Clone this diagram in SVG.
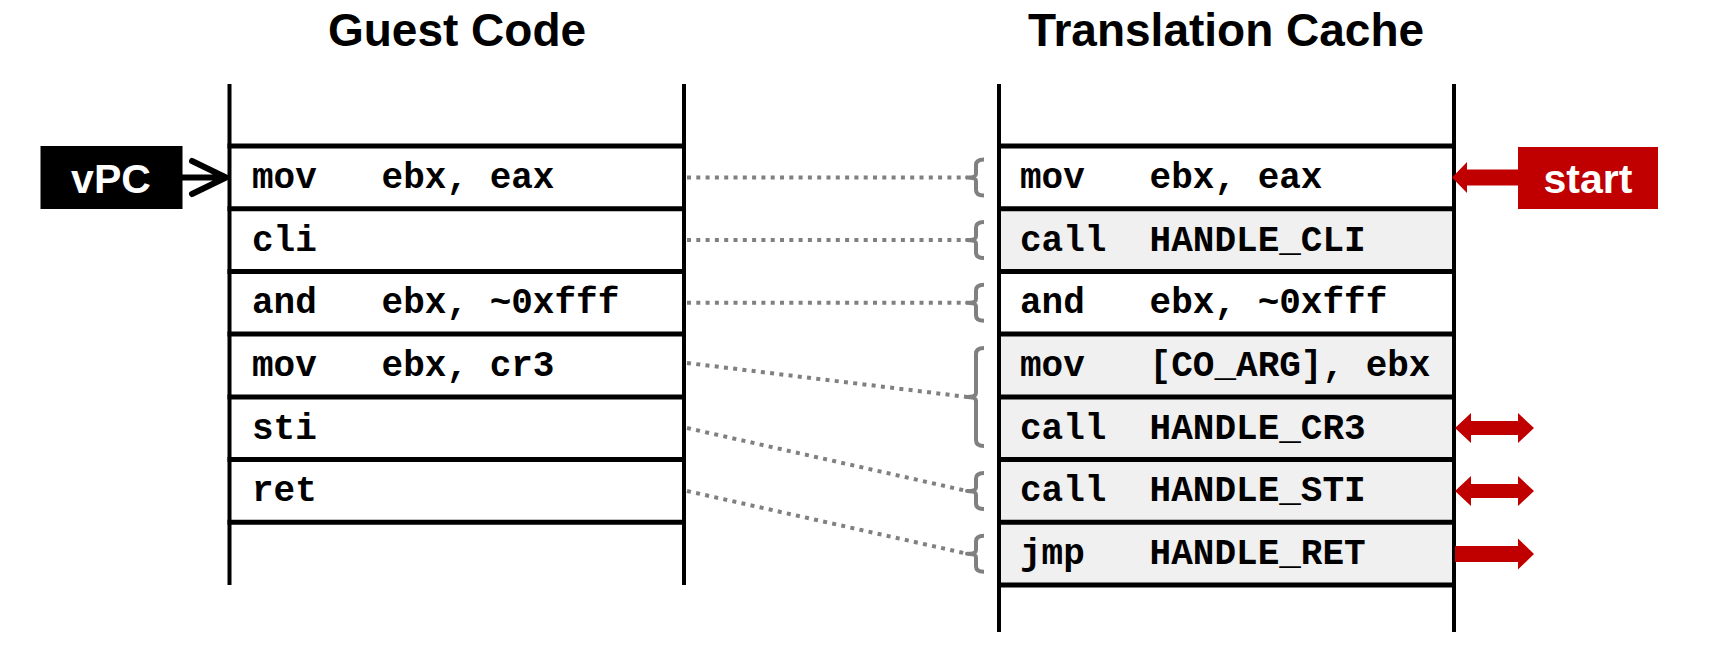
<svg xmlns="http://www.w3.org/2000/svg" width="1721" height="646" viewBox="0 0 1721 646">
<defs>
<style>
.title{font-family:"Liberation Sans",Arial,sans-serif;font-weight:bold;font-size:46px;fill:#000;text-anchor:middle}
.code{font-family:"Liberation Mono","Courier New",monospace;font-weight:bold;font-size:36px;fill:#000;white-space:pre}
.lbl{font-family:"Liberation Sans",Arial,sans-serif;font-weight:bold;font-size:41px;fill:#fff;text-anchor:middle}
.vline{stroke:#000;stroke-width:4;fill:none}
.hline{stroke:#000;stroke-width:5;fill:none}
.dot{stroke:#808080;stroke-width:4;stroke-dasharray:4 5.3;fill:none}
.brace{stroke:#808080;stroke-width:4;fill:none;stroke-linejoin:round}
.gray{fill:#f0f0f0}
.red{fill:#c00000}
</style>
</defs>
<rect width="1721" height="646" fill="#fff"/>
<text class="title" x="457" y="46">Guest Code</text>
<text class="title" x="1226" y="46">Translation Cache</text>

<g id="guest">
<line class="vline" x1="229.5" y1="84" x2="229.5" y2="585"/>
<line class="vline" x1="684" y1="84" x2="684" y2="585"/>
<g class="hline">
<line x1="227.5" y1="146" x2="686" y2="146"/>
<line x1="227.5" y1="208.7" x2="686" y2="208.7"/>
<line x1="227.5" y1="271.4" x2="686" y2="271.4"/>
<line x1="227.5" y1="334.1" x2="686" y2="334.1"/>
<line x1="227.5" y1="396.9" x2="686" y2="396.9"/>
<line x1="227.5" y1="459.6" x2="686" y2="459.6"/>
<line x1="227.5" y1="522.3" x2="686" y2="522.3"/>
</g>
<text class="code" x="252" y="188" xml:space="preserve">mov   ebx, eax</text>
<text class="code" x="252" y="251" xml:space="preserve">cli</text>
<text class="code" x="252" y="313" xml:space="preserve">and   ebx, ~0xfff</text>
<text class="code" x="252" y="376" xml:space="preserve">mov   ebx, cr3</text>
<text class="code" x="252" y="439" xml:space="preserve">sti</text>
<text class="code" x="252" y="501" xml:space="preserve">ret</text>
</g>

<g id="cache">
<rect class="gray" x="999" y="208.7" width="455" height="62.7"/>
<rect class="gray" x="999" y="334.1" width="455" height="250.9"/>
<line class="vline" x1="999" y1="84" x2="999" y2="632"/>
<line class="vline" x1="1454" y1="84" x2="1454" y2="632"/>
<g class="hline">
<line x1="997" y1="146" x2="1456" y2="146"/>
<line x1="997" y1="208.7" x2="1456" y2="208.7"/>
<line x1="997" y1="271.4" x2="1456" y2="271.4"/>
<line x1="997" y1="334.1" x2="1456" y2="334.1"/>
<line x1="997" y1="396.9" x2="1456" y2="396.9"/>
<line x1="997" y1="459.6" x2="1456" y2="459.6"/>
<line x1="997" y1="522.3" x2="1456" y2="522.3"/>
<line x1="997" y1="585" x2="1456" y2="585"/>
</g>
<text class="code" x="1020" y="188" xml:space="preserve">mov   ebx, eax</text>
<text class="code" x="1020" y="251" xml:space="preserve">call  HANDLE_CLI</text>
<text class="code" x="1020" y="313" xml:space="preserve">and   ebx, ~0xfff</text>
<text class="code" x="1020" y="376" xml:space="preserve">mov   [CO_ARG], ebx</text>
<text class="code" x="1020" y="439" xml:space="preserve">call  HANDLE_CR3</text>
<text class="code" x="1020" y="501" xml:space="preserve">call  HANDLE_STI</text>
<text class="code" x="1020" y="564" xml:space="preserve">jmp   HANDLE_RET</text>
</g>

<g id="vpc">
<rect x="40.5" y="146" width="142" height="63" fill="#000"/>
<text class="lbl" x="111" y="193">vPC</text>
</g>

<g id="start">
<rect x="1518" y="147" width="140" height="62" class="red"/>
<text class="lbl" x="1588" y="193">start</text>
</g>

<g id="connectors">
<path d="M182 177.5 H224 M192 161 L226 177.5 L192 194" stroke="#000" stroke-width="6" fill="none" stroke-linecap="round" stroke-linejoin="round"/>
<polygon class="red" points="1519,169.5 1467,169.5 1467,162 1452,177.5 1467,193 1467,185.5 1519,185.5"/>
<polygon class="red" points="1455,428 1471,413 1471,421 1518,421 1518,413 1534,428 1518,443 1518,435 1471,435 1471,443"/>
<polygon class="red" points="1455,491 1471,476 1471,484 1518,484 1518,476 1534,491 1518,506 1518,498 1471,498 1471,506"/>
<polygon class="red" points="1455,546 1518,546 1518,538.5 1534,554 1518,569.5 1518,562 1455,562"/>
<g class="dot">
<line x1="687" y1="177.5" x2="967" y2="177.5"/>
<line x1="687" y1="240" x2="967" y2="240"/>
<line x1="687" y1="302.7" x2="967" y2="302.7"/>
<line x1="687" y1="363" x2="967" y2="396.9"/>
<line x1="687" y1="428" x2="967" y2="491"/>
<line x1="687" y1="491" x2="967" y2="553.7"/>
</g>
<g class="brace">
<path d="M984 159.5 Q976 159.5 976 165 V174 Q976 177.5 967 177.5 Q976 177.5 976 181 V190 Q976 195.5 984 195.5"/>
<path d="M984 222 Q976 222 976 227.5 V236.5 Q976 240 967 240 Q976 240 976 243.5 V252.5 Q976 258 984 258"/>
<path d="M984 284.7 Q976 284.7 976 290.2 V299.2 Q976 302.7 967 302.7 Q976 302.7 976 306.2 V315.2 Q976 320.7 984 320.7"/>
<path d="M984 348 Q976 348 976 354 V393 Q976 396.9 967 396.9 Q976 396.9 976 400.8 V440 Q976 446 984 446"/>
<path d="M984 473 Q976 473 976 478.5 V487.5 Q976 491 967 491 Q976 491 976 494.5 V503.5 Q976 509 984 509"/>
<path d="M984 535.7 Q976 535.7 976 541.2 V550.2 Q976 553.7 967 553.7 Q976 553.7 976 557.2 V566.2 Q976 571.7 984 571.7"/>
</g>
</g>
</svg>
